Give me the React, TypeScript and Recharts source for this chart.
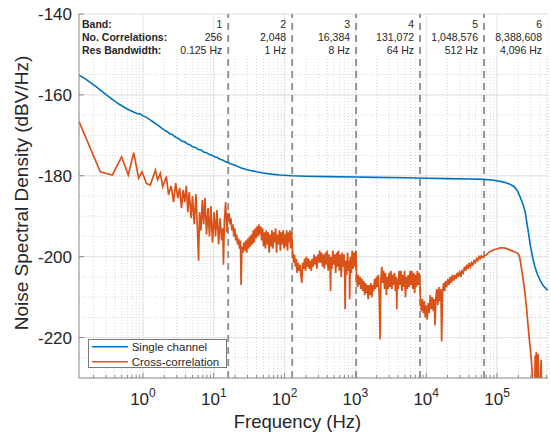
import React from 'react'
import { LineChart, Line, XAxis, YAxis, CartesianGrid, ReferenceLine, ReferenceArea, Legend } from 'recharts'

const seriesNames = ['Single channel', 'Cross-correlation']

// Single channel noise floor: [Hz, dBV/Hz]
const singleChannel: [number, number][] = [
  [0.125, -155.1], [0.15, -155.9], [0.18, -156.9], [0.22, -158.0], [0.28, -159.5], [0.35, -160.8],
  [0.45, -162.2], [0.6, -163.5], [0.75, -164.3], [0.85, -164.7], [0.9, -164.6], [1.0, -165.2],
  [1.1, -165.5], [1.25, -166.1], [1.4, -166.7], [1.6, -167.4], [1.8, -168.1], [2.0, -168.7],
  [2.2, -169.1], [2.4, -169.6], [2.6, -169.8], [2.8, -170.3], [3.0, -170.6], [3.3, -171.0],
  [3.6, -171.5], [3.9, -171.6], [4.2, -172.1], [4.6, -172.3], [5.0, -172.8], [5.5, -173.0],
  [6.0, -173.5], [6.6, -173.6], [7.2, -174.1], [7.9, -174.3], [8.6, -174.7], [9.4, -174.9],
  [10.3, -175.3], [11.2, -175.5], [12.2, -175.9], [13.3, -176.1], [14.5, -176.5], [15.8, -176.7],
  [17.2, -177.0], [19, -177.3], [21, -177.6], [24, -178.0], [28, -178.4], [33, -178.7], [40, -179.0],
  [50, -179.3], [65, -179.6], [85, -179.8], [128, -180.0], [200, -180.1], [400, -180.2], [1000, -180.3],
  [2000, -180.4], [5000, -180.5], [10000, -180.6], [20000, -180.7], [40000, -180.8], [65536, -180.9],
  [90000, -181.1], [120000, -181.5], [150000, -182.0], [175000, -182.7], [195000, -183.8],
  [215000, -185.5], [235000, -187.3], [250000, -189.0], [265000, -191.8], [280000, -194.5],
  [295000, -197.2], [315000, -199.8], [340000, -202.3], [370000, -204.3], [405000, -205.8],
  [450000, -207.2], [490000, -207.9], [524288, -208.3],
]

// Cross-correlation noise floor, one list per band: [Hz, dBV/Hz]
const crossBand1: [number, number][] = [
  [0.125, -166.6], [0.25, -179.0], [0.37, -179.8], [0.5, -175.3], [0.62, -179.8], [0.74, -174.3],
  [0.87, -180.6], [0.97, -179.0], [1.12, -181.9], [1.27, -182.3], [1.5, -178.6], [1.61, -181.0],
  [1.76, -179.4], [1.9, -182.7], [2.14, -180.2], [2.3, -184.7], [2.5, -182.5], [2.7, -186.5],
  [2.9, -181.8], [3.1, -185.5], [3.3, -183.0], [3.5, -188.0], [3.7, -183.5], [3.9, -186.5],
  [4.1, -182.5], [4.3, -189.0], [4.5, -184.0], [4.8, -190.5], [5.0, -185.0], [5.3, -192.0],
  [5.6, -184.5], [5.9, -194.0], [6.1, -201.0], [6.3, -189.0], [6.6, -193.5], [6.9, -186.0],
  [7.2, -192.0], [7.5, -185.5], [7.9, -194.5], [8.3, -188.0], [8.7, -195.0], [9.1, -187.5],
  [9.6, -196.5], [10.1, -189.0], [10.6, -195.0], [11.1, -188.5], [11.7, -197.0], [12.3, -190.5],
  [12.9, -196.0], [13.4, -193.0], [13.7, -202.0], [14.1, -191.5], [14.7, -186.5], [15.3, -194.0],
  [15.8, -189.5],
]
const crossBand2: [number, number][] = [
  [16.5, -189.5], [17, -192.0], [17.5, -190.5], [18, -193.5], [18.6, -192.0], [19.2, -195.0],
  [19.8, -193.0], [20.4, -196.0], [21, -194.5], [21.7, -197.0], [22.4, -195.5], [23.1, -198.0],
  [23.8, -196.0], [24.3, -207.0], [25, -197.5], [25.8, -199.0], [26.6, -196.5], [27.4, -198.5],
  [28.3, -196.0], [29.2, -199.0], [30.1, -195.5], [31, -198.0], [32, -195.0], [33, -197.5],
  [34, -194.5], [35, -197.0], [36.1, -193.5], [37.2, -196.5], [38.4, -193.0], [39.6, -195.5],
  [40.8, -192.5], [42, -195.0], [43.3, -192.0], [44.6, -194.5], [46, -192.5], [47.4, -196.0],
  [48.9, -193.0], [50.4, -197.5], [52, -194.0], [53.6, -198.0], [55.2, -193.5], [56.9, -197.0],
  [58.7, -194.0], [60.5, -199.0], [62.4, -194.5], [64.3, -197.5], [66.3, -193.5], [68.3, -198.0],
  [70.4, -194.0], [72.6, -196.5], [74.8, -193.0], [77.1, -199.0], [79.5, -194.5], [82, -197.0],
  [84.5, -193.5], [87.1, -198.5], [89.8, -194.0], [92.6, -197.0], [95.5, -193.5], [98.4, -198.0],
  [101, -194.5], [104, -197.5], [107, -193.5], [110, -198.5], [113, -194.0], [116, -196.5],
  [119, -193.5], [122, -198.0], [125, -194.0], [127.5, -196.0],
]
const crossBand3: [number, number][] = [
  [130, -199.0], [134, -201.5], [138, -199.5], [142, -202.5], [146, -200.5], [150, -204.0],
  [155, -201.5], [160, -203.5], [165, -202.0], [170, -204.5], [175, -206.5], [180, -201.5],
  [186, -203.0], [192, -200.5], [198, -203.5], [204, -200.0], [210, -202.5], [217, -200.5],
  [224, -203.0], [231, -201.0], [238, -203.5], [245, -200.5], [253, -202.5], [261, -199.5],
  [269, -202.0], [277, -200.0], [286, -203.0], [295, -199.5], [304, -201.5], [313, -198.5],
  [323, -201.5], [333, -199.0], [343, -202.5], [354, -199.5], [365, -203.0], [376, -199.0],
  [388, -202.0], [400, -198.5], [412, -203.5], [425, -199.5], [438, -202.5], [446, -208.5],
  [452, -200.0], [466, -203.0], [480, -198.5], [495, -202.0], [510, -199.5], [526, -204.0],
  [542, -199.0], [559, -202.5], [576, -198.5], [594, -203.5], [612, -199.5], [631, -205.0],
  [650, -199.0], [670, -202.5], [690, -199.5], [705, -204.0], [716, -213.0], [730, -201.0],
  [752, -204.5], [775, -199.0], [799, -203.5], [823, -201.0], [830, -210.5], [848, -200.0],
  [874, -204.0], [901, -198.5], [929, -203.0], [957, -199.0], [986, -202.5], [1015, -198.5],
]
const crossBand4: [number, number][] = [
  [1040, -205.0], [1070, -207.5], [1100, -204.5], [1130, -207.0], [1165, -205.0], [1200, -208.0],
  [1235, -205.5], [1270, -208.5], [1310, -206.0], [1350, -209.5], [1390, -206.5], [1430, -209.0],
  [1470, -207.0], [1515, -210.5], [1560, -207.0], [1605, -209.5], [1655, -206.5], [1705, -210.0],
  [1755, -207.0], [1810, -208.5], [1865, -205.5], [1920, -208.0], [1980, -205.0], [2040, -207.5],
  [2100, -204.5], [2160, -209.0], [2230, -220.5], [2290, -205.5], [2360, -202.5], [2430, -206.5],
  [2500, -203.5], [2580, -208.0], [2660, -204.0], [2740, -209.5], [2820, -205.0], [2900, -208.0],
  [2990, -204.0], [3080, -207.5], [3170, -203.5], [3270, -208.0], [3370, -204.5], [3470, -207.0],
  [3570, -204.0], [3680, -208.5], [3790, -205.0], [3840, -213.0], [3900, -205.5], [4020, -208.0],
  [4140, -203.5], [4270, -207.0], [4400, -203.5], [4530, -208.5], [4670, -204.5], [4810, -207.5],
  [4950, -203.5], [5100, -210.0], [5250, -205.0], [5410, -208.0], [5570, -204.5], [5740, -207.5],
  [5910, -203.5], [6090, -207.0], [6270, -203.5], [6460, -208.0], [6660, -204.0], [6860, -209.0],
  [7060, -204.5], [7270, -207.5], [7490, -203.5], [7720, -207.0], [7950, -204.0], [8150, -206.5],
]
const crossBand5: [number, number][] = [
  [8300, -211.0], [8550, -213.5], [8800, -210.5], [9100, -214.0], [9400, -211.0], [9700, -215.0],
  [10000, -212.0], [10300, -215.5], [10700, -211.5], [11000, -214.0], [11400, -209.5], [11800, -213.0],
  [12200, -210.0], [12600, -213.5], [13000, -210.5], [13300, -217.0], [13700, -210.0], [14100, -208.0],
  [14600, -212.0], [15100, -207.5], [15600, -211.0], [16100, -208.0], [16500, -221.0], [17000, -209.0],
  [17600, -206.5], [18200, -208.5], [18800, -206.0], [19500, -207.5], [20200, -205.5], [21000, -207.0],
  [21800, -205.0], [22600, -206.5], [23500, -204.5], [24400, -206.0], [25400, -204.5], [26400, -205.5],
  [27400, -204.0], [28500, -205.0], [29700, -203.5], [30900, -205.0], [32100, -203.5], [33400, -204.0],
  [34700, -202.5], [36100, -203.5], [37500, -202.0], [39000, -203.0], [40600, -201.5], [42200, -202.5],
  [43900, -201.5], [45600, -202.0], [47400, -201.0], [49300, -201.5], [51300, -200.5], [53400, -201.0],
  [55500, -200.0], [57700, -200.5], [60000, -199.8], [62700, -200.2], [65536, -199.8],
]
const crossBand6: [number, number][] = [
  [70000, -199.6], [76000, -199.0], [83000, -198.6], [90000, -198.3], [98700, -198.1], [108000, -197.9],
  [118000, -197.8], [130000, -197.9], [145000, -198.2], [160000, -198.5], [175000, -198.8],
  [190000, -199.0], [205000, -199.6], [212000, -200.8], [222000, -203.0], [235000, -206.0],
  [248000, -209.0], [262000, -213.0], [275000, -217.3], [290000, -221.5], [305000, -225.5],
  [312000, -228.0], [322000, -236.0], [330000, -240.0], [340000, -240.0], [345000, -224.5],
  [352000, -226.5], [358000, -223.5], [364000, -238.0], [372000, -226.0], [380000, -224.0],
  [388000, -240.0], [400000, -240.0], [412000, -228.0], [420000, -225.5], [428000, -240.0],
  [524288, -240.0],
]

// Correlation bands
const bandEdges = [16, 128, 1024, 8192, 65536, 524288]
const bandNames = ['1', '2', '3', '4', '5', '6']
const bandCorrelations = ['256', '2,048', '16,384', '131,072', '1,048,576', '8,388,608']
const bandResBw = ['0.125 Hz', '1 Hz', '8 Hz', '64 Hz', '512 Hz', '4,096 Hz']
const rowLabels = ['Band:', 'No. Correlations:', 'Res Bandwidth:']

// Axes
const xMajorTicks = [1, 10, 100, 1000, 10000, 100000]
const xMajorLabels = ['0', '1', '2', '3', '4', '5']
const yMajorTicks = [-220, -200, -180, -160, -140]

const xMinorTicks: number[] = []
for (let d = 0.1; d < 1e6; d *= 10) {
  for (let m = 2; m <= 9; m++) {
    const v = Math.round(d * m * 1000) / 1000
    if (v > 0.125 && v < 524288) xMinorTicks.push(v)
  }
}
const xAllTicks = [...xMajorTicks, ...xMinorTicks].sort((a, b) => a - b)
const yAllTicks: number[] = []
for (let v = -230; v <= -140; v += 5) yAllTicks.push(v)

const toRows = (pts: [number, number][]) => pts.map(([f, db]) => ({ f, db }))
const singleData = toRows(singleChannel)
const crossData = toRows([...crossBand1, ...crossBand2, ...crossBand3, ...crossBand4, ...crossBand5, ...crossBand6])

const FONT = '"Liberation Sans", Arial, Helvetica, sans-serif'
const AXIS = '#8a8a8a'
const TEXT = '#262626'

const isMajorX = (v: number) => xMajorTicks.includes(v)

const BottomTick = (p: any) => {
  const v = p.payload.value
  const idx = xMajorTicks.indexOf(v)
  return (
    <g>
      <line x1={p.x} x2={p.x} y1={p.y} y2={p.y - (idx >= 0 ? 5 : 3)} stroke={AXIS} />
      {idx >= 0 && (
        <text x={p.x} y={p.y + 27} textAnchor="middle" fontSize={17} fill={TEXT} fontFamily={FONT}>
          <tspan>10</tspan>
          <tspan dy={-8} fontSize={12}>{xMajorLabels[idx]}</tspan>
        </text>
      )}
    </g>
  )
}

const TopTick = (p: any) => (
  <line x1={p.x} x2={p.x} y1={p.y} y2={p.y + (isMajorX(p.payload.value) ? 5 : 3)} stroke={AXIS} />
)

const LeftTick = (p: any) => {
  const v = p.payload.value
  if (!yMajorTicks.includes(v)) return <g />
  return (
    <g>
      <line x1={p.x} x2={p.x + 5} y1={p.y} y2={p.y} stroke={AXIS} />
      <text x={p.x - 7} y={p.y} dy="0.36em" textAnchor="end" fontSize={17} fill={TEXT} fontFamily={FONT}>
        {v}
      </text>
    </g>
  )
}

const RightTick = (p: any) => {
  if (!yMajorTicks.includes(p.payload.value)) return <g />
  return <line x1={p.x} x2={p.x - 5} y1={p.y} y2={p.y} stroke={AXIS} />
}

const BandLabel = (props: any) => {
  const vb = props.viewBox
  const i = props.index
  const rows = [bandNames[i], bandCorrelations[i], bandResBw[i]]
  return (
    <g fontFamily={FONT} fontSize={10.5} fill={TEXT} textAnchor="end">
      {rows.map((r, k) => (
        <text key={k} x={vb.x - 6} y={vb.y + 14.3 + k * 12.6}>{r}</text>
      ))}
    </g>
  )
}

const RowLabels = (props: any) => {
  const vb = props.viewBox
  return (
    <g fontFamily={FONT} fontSize={10.5} fill={TEXT} fontWeight="bold">
      {rowLabels.map((r, k) => (
        <text key={k} x={vb.x + 3} y={vb.y + 14.3 + k * 12.6}>{r}</text>
      ))}
    </g>
  )
}

const LegendBox = (props: any) => {
  const items = (props.payload || [])
    .slice()
    .sort((a: any, b: any) => seriesNames.indexOf(a.value) - seriesNames.indexOf(b.value))
  return (
    <svg width={139} height={29} style={{ display: 'block' }}>
      <rect x={0.5} y={0.5} width={138} height={28} fill="#fff" stroke="#7a7a7a" />
      {items.map((it: any, k: number) => (
        <g key={k}>
          <line x1={4} x2={40} y1={7.7 + k * 15} y2={7.7 + k * 15} stroke={it.color} strokeWidth={1.5} />
          <text x={43.7} y={11.8 + k * 15} fontSize={11.5} fill={TEXT} fontFamily={FONT}>{it.value}</text>
        </g>
      ))}
    </svg>
  )
}

const XTitle = (props: any) => {
  const vb = props.viewBox
  return (
    <text x={vb.x + vb.width / 2 - 16} y={vb.y + 50} textAnchor="middle" fontSize={18.5} fill={TEXT} fontFamily={FONT}>
      Frequency (Hz)
    </text>
  )
}

const YTitle = (props: any) => {
  const vb = props.viewBox
  const cx = vb.x + 28
  const cy = vb.y + vb.height / 2 - 3
  return (
    <text x={cx} y={cy} transform={`rotate(-90 ${cx} ${cy})`} textAnchor="middle" fontSize={19} fill={TEXT} fontFamily={FONT}>
      Noise Spectral Density (dBV/Hz)
    </text>
  )
}

export default function App() {
  return (
    <div style={{ position: 'absolute', left: 0, top: 0, background: '#fff' }}>
      <LineChart width={551} height={436} margin={{ top: 14, right: 3, bottom: 0, left: 0 }} style={{ fontFamily: FONT }}>
        <CartesianGrid stroke="#d6d6d6" strokeDasharray="1 2" />
        {xMajorTicks.map((v) => (
          <ReferenceLine key={'gx' + v} x={v} stroke="#e3e3e3" strokeWidth={1} />
        ))}
        {yMajorTicks.map((v) => (
          <ReferenceLine key={'gy' + v} y={v} stroke="#e3e3e3" strokeWidth={1} />
        ))}
        <ReferenceArea x1={0.125} x2={524288} y1={-150.5} y2={-140} fill="#fff" fillOpacity={1} stroke="none" />
        {bandEdges.slice(0, 5).map((e) => (
          <ReferenceLine key={'b' + e} x={e} stroke="#8c8c8c" strokeWidth={1.8} strokeDasharray="7 5" />
        ))}

        <XAxis
          dataKey="f"
          type="number"
          scale="log"
          domain={[0.125, 524288]}
          allowDataOverflow
          ticks={xAllTicks}
          interval={0}
          height={58}
          tickSize={0}
          tickMargin={0}
          tickLine={false}
          axisLine={{ stroke: AXIS }}
          tick={BottomTick}
          label={XTitle}
        />
        <XAxis
          xAxisId="top"
          orientation="top"
          dataKey="f"
          type="number"
          scale="log"
          domain={[0.125, 524288]}
          allowDataOverflow
          ticks={xAllTicks}
          interval={0}
          height={0}
          tickSize={0}
          tickMargin={0}
          tickLine={false}
          axisLine={{ stroke: AXIS }}
          tick={TopTick}
        />
        <YAxis
          type="number"
          domain={[-230, -140]}
          allowDataOverflow
          ticks={yAllTicks}
          interval={0}
          width={79}
          tickSize={0}
          tickMargin={0}
          tickLine={false}
          axisLine={{ stroke: AXIS }}
          tick={LeftTick}
          label={YTitle}
        />
        <YAxis
          yAxisId="right"
          orientation="right"
          type="number"
          domain={[-230, -140]}
          allowDataOverflow
          ticks={yAllTicks}
          interval={0}
          width={0}
          tickSize={0}
          tickMargin={0}
          tickLine={false}
          axisLine={{ stroke: AXIS }}
          tick={RightTick}
        />

        <Line data={singleData} dataKey="db" name={seriesNames[0]} stroke="#0072BD" strokeWidth={1.6} dot={false} isAnimationActive={false} />
        <Line data={crossData} dataKey="db" name={seriesNames[1]} stroke="#D95319" strokeWidth={1.7} dot={false} isAnimationActive={false} />

        <ReferenceLine x={0.125} stroke="none" label={(p: any) => <RowLabels {...p} />} />
        {bandEdges.map((e, i) => (
          <ReferenceLine key={'t' + e} x={e} stroke="none" label={(p: any) => <BandLabel {...p} index={i} />} />
        ))}

        <Legend
          layout="vertical"
          align="center"
          verticalAlign="middle"
          content={LegendBox}
          wrapperStyle={{ position: 'absolute', left: 88, top: 339, width: 139, height: 29 }}
        />
      </LineChart>
    </div>
  )
}
